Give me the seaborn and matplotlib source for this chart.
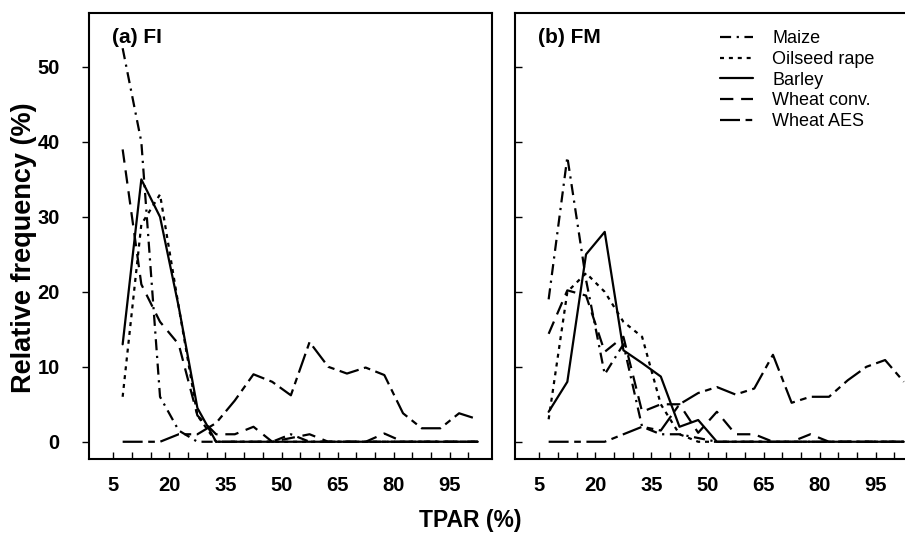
import numpy as np
import pandas as pd
import matplotlib
matplotlib.use("Agg")
import matplotlib.pyplot as plt
import seaborn as sns

# ---- data ----
tpar = [7.5, 12.5, 17.5, 22.5, 27.5, 32.5, 37.5, 42.5, 47.5, 52.5,
        57.5, 62.5, 67.5, 72.5, 77.5, 82.5, 87.5, 92.5, 97.5, 102.5]

series_names = ["Maize", "Oilseed rape", "Barley", "Wheat conv.", "Wheat AES"]

maize_fi = [52.5, 40, 6, 1.5, 0, 0, 0, 0, 0, 1, 0, 0, 0, 0, 0, 0, 0, 0, 0, 0]
oilseed_fi = [6, 29, 33, 18, 3.5, 0, 0, 0, 0, 0, 0, 0, 0, 0, 0, 0, 0, 0, 0, 0]
barley_fi = [13, 35, 30, 18, 4.5, 0, 0, 0, 0, 0, 0, 0, 0, 0, 0, 0, 0, 0, 0, 0]
wheatc_fi = [39, 21, 16, 13, 3.5, 1, 1, 2, 0, 0.5, 1, 0, 0, 0, 1.1, 0, 0, 0, 0, 0]
wheata_fi = [0, 0, 0, 1, 1, 2.5, 5.5, 9, 8, 6.2, 13.3, 10, 9.1, 9.9, 8.9, 3.8, 1.8, 1.8, 3.8, 3.0]

maize_fm = [19, 38, 21.6, 9, 13, 2, 1, 1, 0.5, 0, 0, 0, 0, 0, 0, 0, 0, 0, 0, 0]
oilseed_fm = [3, 20, 22.5, 20, 16, 14, 5, 1, 0, 0, 0, 0, 0, 0, 0, 0, 0, 0, 0, 0]
barley_fm = [4, 8, 25, 28, 12.2, 10.5, 8.7, 2, 2.9, 0, 0, 0, 0, 0, 0, 0, 0, 0, 0, 0]
wheatc_fm = [14.4, 20.2, 19.5, 12, 14, 4, 5, 5, 1.2, 4, 1, 1, 0, 0, 1, 0, 0, 0, 0, 0]
wheata_fm = [0, 0, 0, 0, 1, 2, 1.5, 5, 6.5, 7.3, 6.3, 7.1, 11.6, 5.2, 6.0, 6.0, 8.2, 10, 10.9, 8.0]

panel_titles = ["(a) FI", "(b) FM"]
xtick_vals = [5, 20, 35, 50, 65, 80, 95]
ytick_vals = [0, 10, 20, 30, 40, 50]

rows = []
for panel, vals in [("FI", [maize_fi, oilseed_fi, barley_fi, wheatc_fi, wheata_fi]),
                    ("FM", [maize_fm, oilseed_fm, barley_fm, wheatc_fm, wheata_fm])]:
    for name, ys in zip(series_names, vals):
        for xv, yv in zip(tpar, ys):
            rows.append({"panel": panel, "crop": name, "TPAR": xv, "freq": yv})
df = pd.DataFrame(rows)

# ---- style ----
sns.set_theme(style="ticks")
plt.rcParams["font.family"] = ["Liberation Sans", "DejaVu Sans"]
for k in ["text.color", "axes.labelcolor", "xtick.color", "ytick.color", "axes.edgecolor"]:
    plt.rcParams[k] = "black"

lw = 1.6
dash_map = {
    "Maize": (5, 2.5, 1, 2.5),
    "Oilseed rape": (1.8, 2.2),
    "Barley": "",
    "Wheat conv.": (6, 3.5),
    "Wheat AES": (9, 2.5, 3, 2.5),
}

fig = plt.figure(figsize=(9.05, 5.40), dpi=100)
W, H = 905, 540
ax_a = fig.add_axes([89 / W, 1 - 459 / H, 403 / W, 446 / H])
ax_b = fig.add_axes([515 / W, 1 - 459 / H, 403 / W, 446 / H])

for ax, panel, title in [(ax_a, "FI", panel_titles[0]), (ax_b, "FM", panel_titles[1])]:
    sub = df[df["panel"] == panel]
    sns.lineplot(data=sub, x="TPAR", y="freq", hue="crop", style="crop",
                 hue_order=series_names, style_order=series_names,
                 palette=["black"] * 5, dashes=dash_map, linewidth=lw,
                 legend=(panel == "FM"), ax=ax)
    ax.set_xlim(-1.5, 106.3)
    ax.set_ylim(-2.3, 57.2)
    ax.set_xticks(xtick_vals)
    ax.set_xticks(np.arange(5, 105, 5), minor=True)
    ax.set_yticks(ytick_vals)
    ax.set_xlabel("")
    ax.set_ylabel("")
    ax.tick_params(axis="both", which="major", length=5, width=1,
                   labelsize=14.5, color="black", labelcolor="black")
    ax.tick_params(axis="x", which="both", direction="in", length=5, width=1, color="black")
    for lab in ax.get_xticklabels() + ax.get_yticklabels():
        lab.set_fontweight("bold")
    for sp in ax.spines.values():
        sp.set_visible(True)
        sp.set_linewidth(1.5)
        sp.set_color("black")
    ax.text(0.057, 0.946, title, transform=ax.transAxes, fontsize=15,
            fontweight="bold", va="center", ha="left")

ax_a.tick_params(axis="x", pad=12)
ax_b.tick_params(axis="x", pad=12)
ax_a.tick_params(axis="y", direction="out", pad=16)
ax_b.tick_params(axis="y", direction="in", labelleft=False)

leg = ax_b.legend(loc="upper left", bbox_to_anchor=(0.49, 0.977), frameon=False,
                  fontsize=13, handlelength=1.85, handletextpad=1.05,
                  labelspacing=0.2, borderaxespad=0)
for h in leg.get_lines():
    h.set_color("black")
    h.set_linewidth(lw)

fig.text(24 / W, 1 - 248 / H, "Relative frequency (%)", rotation=90, fontsize=19.5,
         fontweight="bold", ha="center", va="center")
fig.text(470 / W, 1 - 520 / H, "TPAR (%)", fontsize=16.5, fontweight="bold",
         ha="center", va="center")

fig.savefig("out.png", dpi=100)
